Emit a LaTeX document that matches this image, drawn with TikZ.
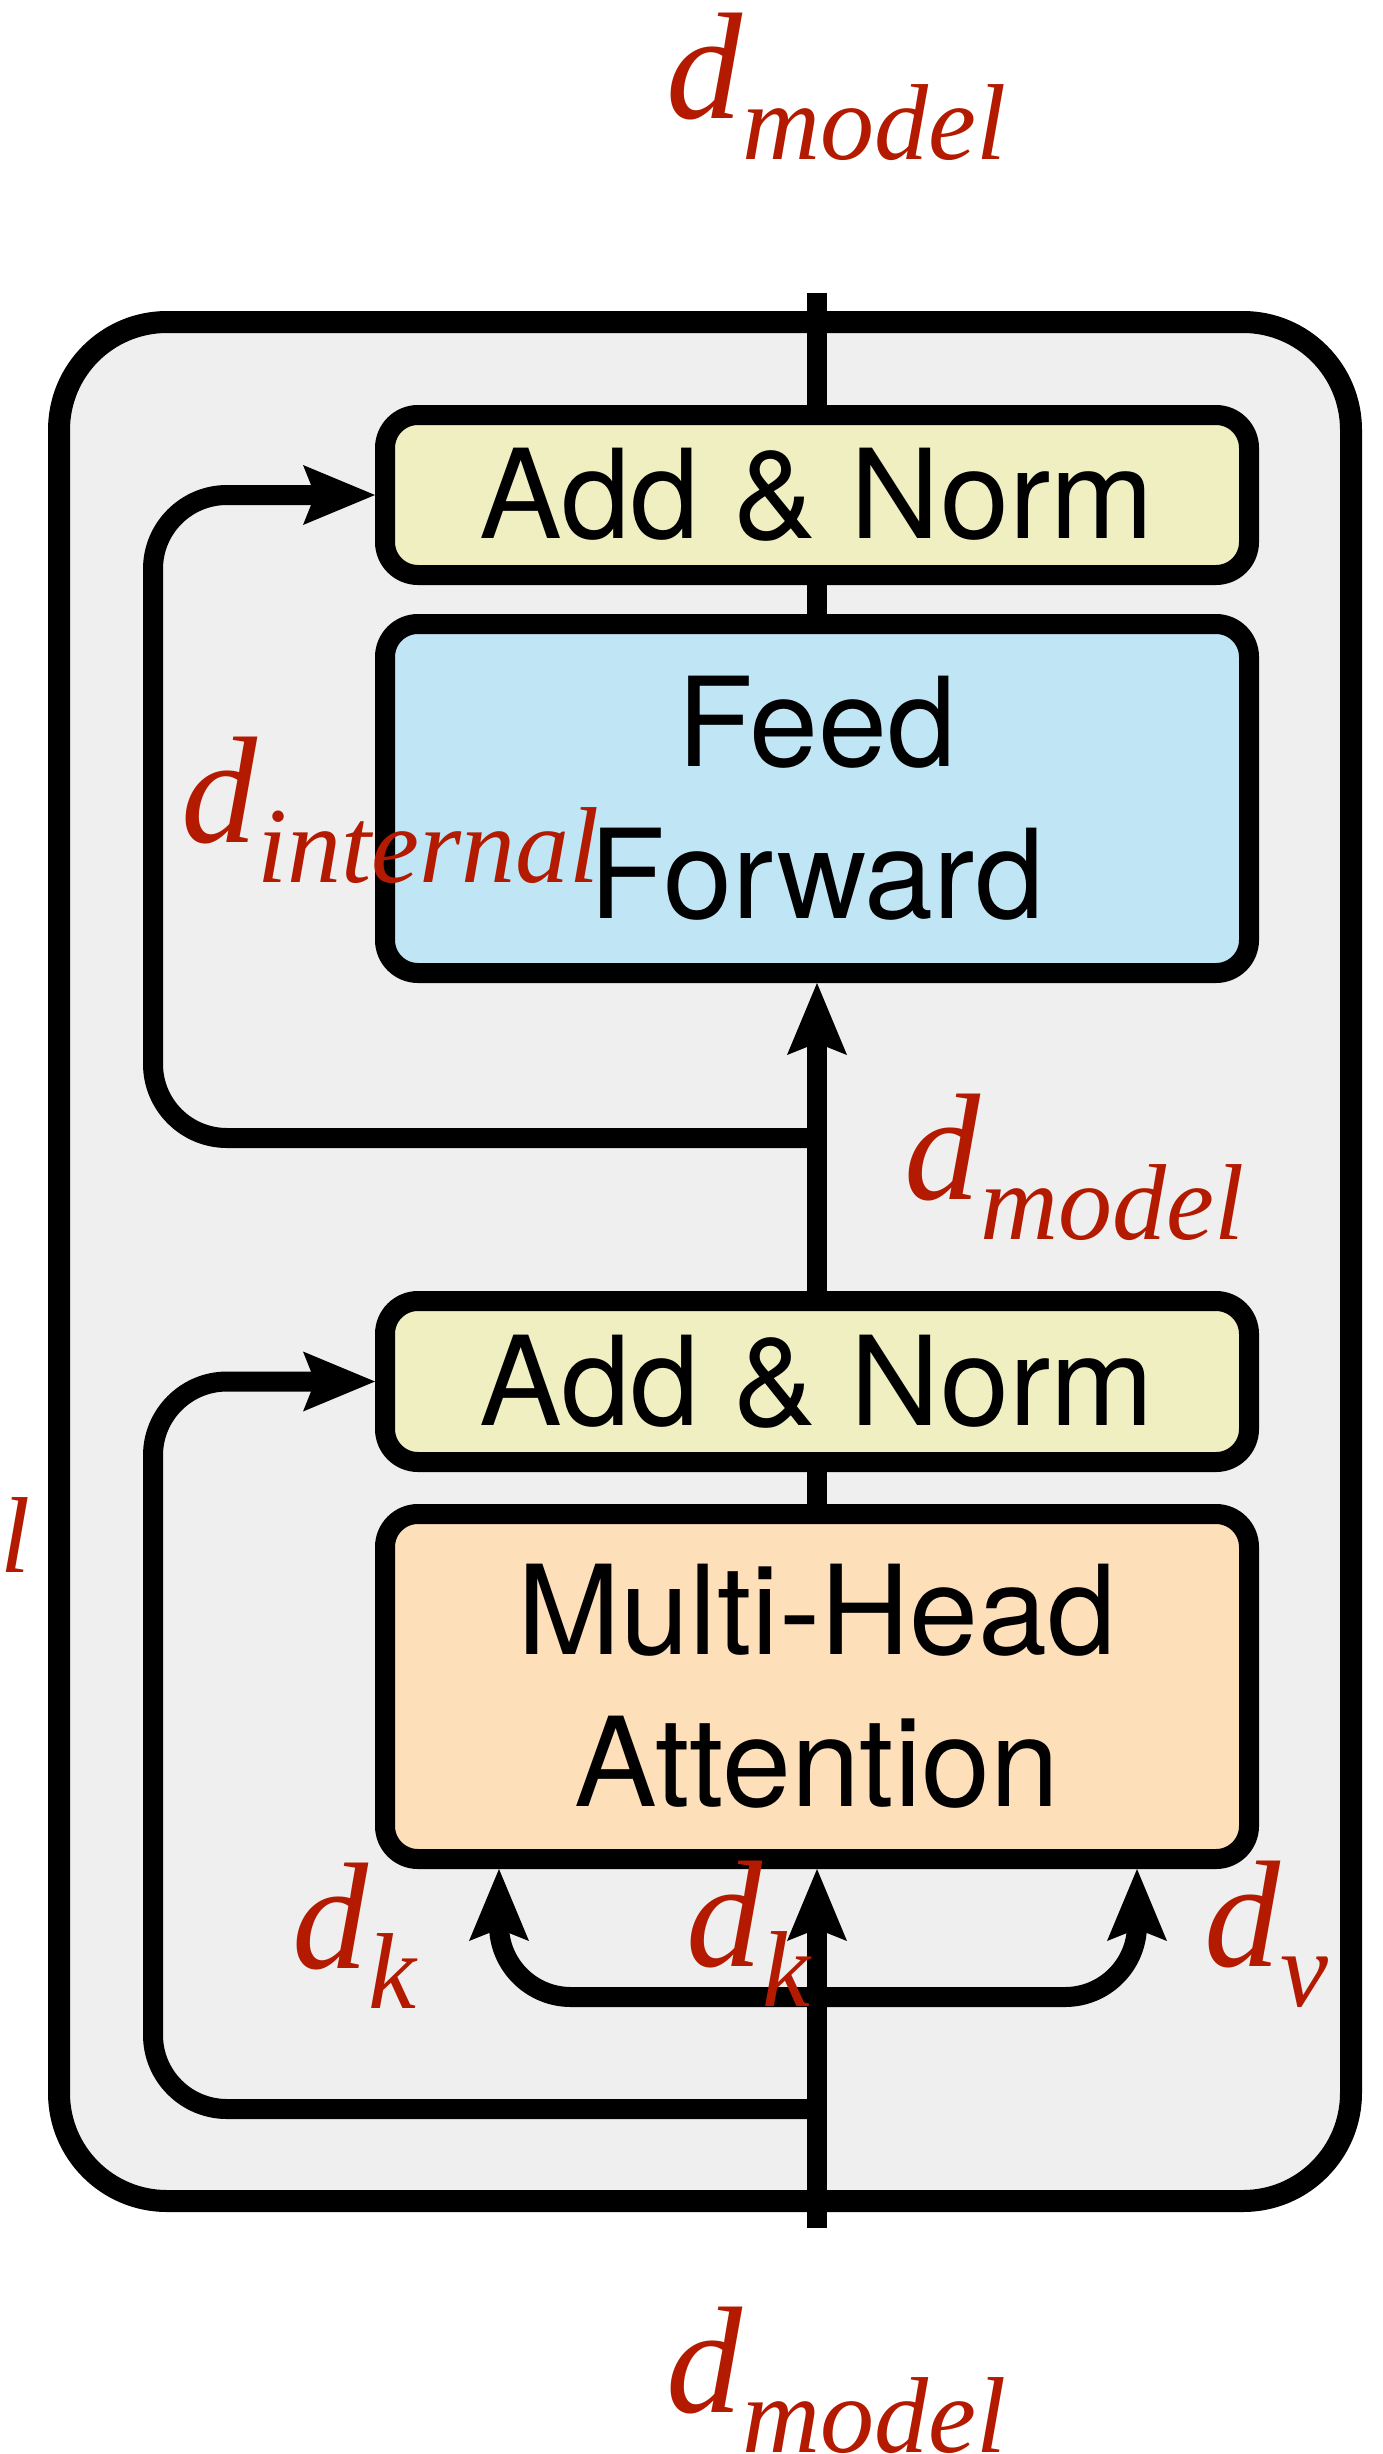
\documentclass[tikz,border=0pt]{standalone}
\usepackage{fontspec}
\setsansfont{TeX Gyre Heros}
\newfontfamily\labfont{Liberation Serif}
\usetikzlibrary{arrows.meta}
\definecolor{labred}{HTML}{B31A00}
\definecolor{normfill}{HTML}{EFEFC1}
\definecolor{fffill}{HTML}{C0E6F6}
\definecolor{attfill}{HTML}{FDDFBA}
\definecolor{layerfill}{HTML}{EFEFEF}

% dimension label: italic d with a lowered, smaller subscript
\newcommand\dlabel[1]{{\labfont\itshape\fontsize{152}{152}\selectfont d\raisebox{-40pt}{\fontsize{108}{108}\selectfont #1}}}

\begin{document}
\begin{tikzpicture}[x=1pt,y=-1pt,
  block/.style={draw, line width=20pt, rounded corners=33pt, minimum width=864pt,
    font=\sffamily\fontsize{124}{152}\selectfont, align=center, inner sep=0pt},
  wire/.style={line width=20pt},
  feed/.style={wire, -{Stealth[length=72pt,width=60pt,inset=12pt,line width=0pt,fill=black]}},
  dim/.style={anchor=base west, inner sep=0pt, text=labred}]

\useasboundingbox (0,0) rectangle (1383,2454);
\clip (0,0) rectangle (1383,2454);

% encoder layer frame
\node[draw, line width=22pt, fill=layerfill, rounded corners=108pt,
      minimum width=1292pt, minimum height=1879pt, inner sep=0pt] (layer) at (705,1261.5) {};

% sub-layer blocks
\node[block, fill=normfill, minimum height=160pt] (an1) at (817,495) {Add \& Norm};
\node[block, fill=fffill, minimum height=349pt] (ff) at (817,798.5) {Feed\\Forward};
\node[block, fill=normfill, minimum height=161pt] (an2) at (817,1381.5) {Add \& Norm};
\node[block, fill=attfill, minimum height=345pt] (mha) at (817,1686.5) {Multi-Head\\Attention};

% path points
\coordinate (top) at (817,293);
\coordinate (bot) at (817,2228);
\coordinate (b1) at (817,1138);
\coordinate (b2) at (817,2109);
\coordinate (b3) at (817,1997);
\coordinate (ql) at (499,1997);
\coordinate (qr) at (1137,1997);

% main data path
\draw[wire] (top) -- (an1.north);
\draw[wire] (an1.south) -- (ff.north);
\draw[feed] (an2.north) -- (ff.south);
\draw[wire] (mha.north) -- (an2.south);
\draw[feed] (bot) -- (mha.south);

% residual connections (corner radius 74)
\draw[feed] (b1) -- (227,1138) arc[start angle=90, end angle=180, radius=74]
  -- (153,569) arc[start angle=180, end angle=270, radius=74] -- (an1.west);
\draw[feed] (b2) -- (227,2109) arc[start angle=90, end angle=180, radius=74]
  -- (153,1455.5) arc[start angle=180, end angle=270, radius=74] -- (an2.west);

% query / key / value branches
\draw[feed] (b3) -- (571,1997) arc[start angle=90, end angle=180, radius=72]
  -- (ql |- mha.south);
\draw[feed] (b3) -- (1065,1997) arc[start angle=90, end angle=0, radius=72]
  -- (qr |- mha.south);

% dimension labels
\node[dim] (lt) at (666,119) {\dlabel{model}};
\node[dim] (lm) at (904,1199) {\dlabel{model}};
\node[dim] (li) at (181,842) {\dlabel{internal}};
\node[dim] (lk1) at (292,1968) {\dlabel{k}};
\node[dim] (lk2) at (686,1966) {\dlabel{k}};
\node[dim] (lv) at (1204,1966) {\dlabel{v}};
\node[dim] (lb) at (666,2412) {\dlabel{model}};
\node[dim] (ll) at (0,1572) {\labfont\itshape\fontsize{108}{108}\selectfont l};
\end{tikzpicture}
\end{document}
